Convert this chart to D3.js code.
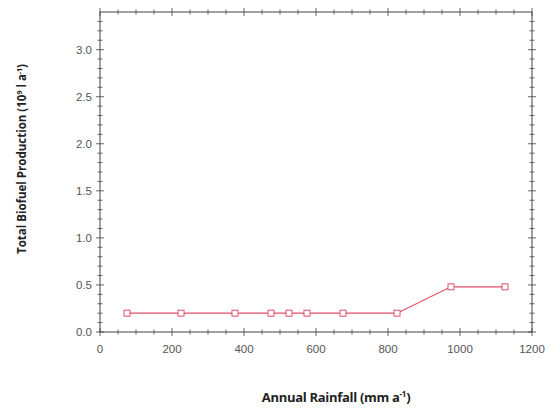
<!DOCTYPE html>
<html><head><meta charset="utf-8">
<script src="https://cdn.jsdelivr.net/npm/d3@7"></script>
<style>body{margin:0;background:#fff}</style>
</head><body>
<svg id="c" width="550" height="410"></svg>
<script>
const rainfall = [75, 225, 375, 475, 525, 575, 675, 825, 975, 1125];
const production = [0.2, 0.2, 0.2, 0.2, 0.2, 0.2, 0.2, 0.2, 0.48, 0.48];
const xTicks = [0, 200, 400, 600, 800, 1000, 1200];
const yTicks = [0.0, 0.5, 1.0, 1.5, 2.0, 2.5, 3.0];

const svg = d3.select("#c");
const L = 100, R = 532, T = 12, B = 332;
const x = d3.scaleLinear().domain([0, 1200]).range([L, R]);
const y = d3.scaleLinear().domain([0, 3.4]).range([B, T]);
const axisCol = "#444";

// frame
svg.append("rect").attr("x", L).attr("y", T).attr("width", R - L).attr("height", B - T)
  .attr("fill", "none").attr("stroke", axisCol).attr("stroke-width", 1);

// minor/major ticks
const xMinor = d3.range(0, 1201, 50);
const yMinor = d3.range(0, 34).map(i => i / 10);
const g = svg.append("g").attr("stroke", axisCol).attr("stroke-width", 0.8);
xMinor.forEach(v => {
  const major = v % 200 === 0;
  const len = major ? 4 : 2.5;
  g.append("line").attr("x1", x(v)).attr("x2", x(v)).attr("y1", B - len).attr("y2", B + len);
  g.append("line").attr("x1", x(v)).attr("x2", x(v)).attr("y1", T - len).attr("y2", T + len);
});
yMinor.forEach(v => {
  const major = Math.abs(v * 2 - Math.round(v * 2)) < 1e-6;
  const len = major ? 4 : 2.5;
  g.append("line").attr("y1", y(v)).attr("y2", y(v)).attr("x1", L - len).attr("x2", L + len);
  g.append("line").attr("y1", y(v)).attr("y2", y(v)).attr("x1", R - len).attr("x2", R + len);
});

// tick labels
svg.append("g").selectAll("text").data(xTicks).join("text")
  .attr("x", d => x(d)).attr("y", B + 21).attr("text-anchor", "middle")
  .attr("font-family", "Liberation Sans, Arial, sans-serif").attr("font-size", 11.5).attr("fill", "#555")
  .text(d => d);
svg.append("g").selectAll("text").data(yTicks).join("text")
  .attr("x", L - 8).attr("y", d => y(d)).attr("dy", "0.35em").attr("text-anchor", "end")
  .attr("font-family", "Liberation Sans, Arial, sans-serif").attr("font-size", 11.5).attr("fill", "#555")
  .text(d => d3.format(".1f")(d));

// axis titles
const xt = svg.append("text").attr("x", 336).attr("y", 402).attr("text-anchor", "middle")
  .attr("font-family", "Open Sans, sans-serif").attr("font-weight", "bold").attr("font-size", 13).attr("fill", "#222")
  .attr("letter-spacing", -0.3);
xt.append("tspan").text("Annual Rainfall (mm a");
xt.append("tspan").attr("dy", -5).attr("font-size", 8).text("-1");
xt.append("tspan").attr("dy", 5).text(")");

const yt = svg.append("text").attr("transform", "translate(26,159) rotate(-90)").attr("text-anchor", "middle")
  .attr("font-family", "Open Sans, sans-serif").attr("font-weight", "bold").attr("font-size", 11.5).attr("fill", "#222");
yt.append("tspan").text("Total Biofuel Production  (10");
yt.append("tspan").attr("dy", -4).attr("font-size", 7).text("9");
yt.append("tspan").attr("dy", 4).text(" l a");
yt.append("tspan").attr("dy", -4).attr("font-size", 7).text("-1");
yt.append("tspan").attr("dy", 4).text(")");

// line and markers
const red = "#e0506a";
const pts = rainfall.map((r, i) => [r, production[i]]);
svg.append("path").datum(pts)
  .attr("d", d3.line().x(d => x(d[0])).y(d => y(d[1])))
  .attr("fill", "none").attr("stroke", red).attr("stroke-width", 1.2);
svg.append("g").selectAll("rect").data(pts).join("rect")
  .attr("x", d => x(d[0]) - 3).attr("y", d => y(d[1]) - 3)
  .attr("width", 6).attr("height", 6).attr("fill", "#fff").attr("stroke", red).attr("stroke-width", 1);
</script>
</body></html>
